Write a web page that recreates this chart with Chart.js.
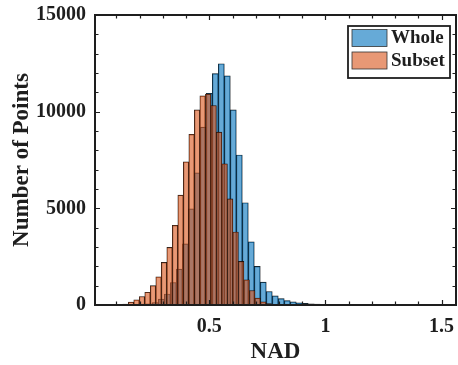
<!DOCTYPE html>
<html lang="en">
<head>
<meta charset="UTF-8">
<title>NAD histogram</title>
<script src="https://cdn.jsdelivr.net/npm/chart.js"></script>
<style>
  html, body { margin: 0; padding: 0; background: #fff; }
  #wrap { width: 458px; height: 365px; }
</style>
</head>
<body>
<div id="wrap"><canvas id="nadChart" width="458" height="365"></canvas></div>
<script>
// bin centres and counts of the two histograms (different bin widths)
const wholeBins = [0.1389, 0.1647, 0.1905, 0.2163, 0.2421, 0.2679, 0.2937, 0.3195, 0.3453, 0.3711,
                   0.3969, 0.4227, 0.4485, 0.4743, 0.5001, 0.5259, 0.5517, 0.5775, 0.6033, 0.6291,
                   0.6549, 0.6807, 0.7065, 0.7323, 0.7581, 0.7839, 0.8097, 0.8355, 0.8613, 0.8871,
                   0.9129, 0.9387, 0.9645, 0.9903, 1.0161, 1.0419, 1.0677, 1.0935, 1.1193];
const wholeCounts = [5, 12, 25, 45, 65, 130, 306, 570, 1166, 1860,
                     3160, 4968, 6834, 9197, 10950, 11970, 12480, 11850, 10090, 7760,
                     5290, 3265, 1995, 1180, 700, 470, 330, 230, 160, 110,
                     80, 58, 42, 30, 20, 14, 9, 6, 4];

const subsetBins = [0.0682, 0.0919, 0.1156, 0.1393, 0.1630, 0.1867, 0.2104, 0.2341, 0.2579, 0.2816,
                    0.3053, 0.3290, 0.3527, 0.3764, 0.4001, 0.4238, 0.4475, 0.4712, 0.4950, 0.5187,
                    0.5424, 0.5661, 0.5898, 0.6135, 0.6372, 0.6609, 0.6846, 0.7083, 0.7321, 0.7558,
                    0.7795, 0.8032, 0.8269];
const subsetCounts = [2, 6, 18, 50, 150, 269, 440, 660, 1000, 1460,
                      2202, 2979, 4120, 5680, 7404, 8830, 10090, 10820, 10910, 10321,
                      8938, 7300, 5487, 3777, 2254, 1306, 751, 357, 166, 78,
                      40, 20, 10];

const seriesNames = ['Whole', 'Subset'];
const xTicks = [0.5, 1, 1.5];
const yTicks = [0, 5000, 10000, 15000];

const X_MIN = 0.008, X_MAX = 1.562;
const FONT = '"Liberation Serif", "Times New Roman", serif';
const INK = '#1e1e1e';
const WHOLE_FILL = 'rgba(0, 114, 189, 0.6)';
const SUBSET_FILL = 'rgba(217, 83, 25, 0.6)';
const EDGE = 'rgba(0, 0, 0, 0.9)';

function toPoints(bins, counts) {
    return bins.map((b, i) => ({ x: b, y: counts[i] }));
}

// closed box with inward ticks on all four sides
const boxPlugin = {
    id: 'boxAxes',
    afterDatasetsDraw(chart) {
        const { ctx, chartArea: a, scales } = chart;
        const sx = scales.x, sy = scales.y;
        ctx.save();
        ctx.strokeStyle = INK;
        ctx.lineWidth = 1.2;
        ctx.beginPath();
        for (let i = Math.ceil(X_MIN * 10); i <= Math.floor(X_MAX * 10); i++) {
            const v = i / 10;
            const px = Math.round(sx.getPixelForValue(v)) + 0.5;
            const len = xTicks.includes(v) ? 5 : 3.5;
            ctx.moveTo(px, a.bottom); ctx.lineTo(px, a.bottom - len);
            ctx.moveTo(px, a.top); ctx.lineTo(px, a.top + len);
        }
        for (let v = 0; v <= 15000; v += 1000) {
            const py = Math.round(sy.getPixelForValue(v)) + 0.5;
            const len = yTicks.includes(v) ? 5 : 3.5;
            ctx.moveTo(a.left, py); ctx.lineTo(a.left + len, py);
            ctx.moveTo(a.right, py); ctx.lineTo(a.right - len, py);
        }
        ctx.stroke();
        ctx.lineWidth = 2;
        ctx.strokeRect(a.left, a.top, a.right - a.left, a.bottom - a.top);
        ctx.restore();
    }
};

// boxed legend in the upper right corner
const legendPlugin = {
    id: 'boxLegend',
    afterDraw(chart) {
        const { ctx, chartArea: a } = chart;
        const sets = chart.data.datasets;
        const w = 102, h = 52;
        const left = a.right - 6 - w, top = a.top + 11;
        ctx.save();
        ctx.fillStyle = '#fff';
        ctx.fillRect(left, top, w, h);
        ctx.strokeStyle = INK;
        ctx.lineWidth = 1.8;
        ctx.strokeRect(left, top, w, h);
        ctx.font = 'bold 19px ' + FONT;
        ctx.textBaseline = 'middle';
        sets.forEach((ds, i) => {
            const ry = top + 3.5 + i * 22.5;
            ctx.fillStyle = ds.backgroundColor;
            ctx.fillRect(left + 4, ry, 35, 17);
            ctx.lineWidth = 0.8;
            ctx.strokeStyle = '#333';
            ctx.strokeRect(left + 4, ry, 35, 17);
            ctx.fillStyle = INK;
            ctx.fillText(ds.label, left + 43, ry + 9);
        });
        ctx.restore();
    }
};

const tickFont = { family: FONT, size: 20, weight: 'bold' };
const titleFont = { family: FONT, size: 23, weight: 'bold', lineHeight: 1 };

new Chart(document.getElementById('nadChart'), {
    type: 'bar',
    data: {
        datasets: [
            {
                label: seriesNames[0],
                data: toPoints(wholeBins, wholeCounts),
                xAxisID: 'x',
                backgroundColor: WHOLE_FILL,
                borderColor: EDGE,
                borderWidth: 0.55,
                borderSkipped: false,
                order: 2
            },
            {
                label: seriesNames[1],
                data: toPoints(subsetBins, subsetCounts),
                xAxisID: 'x2',
                backgroundColor: SUBSET_FILL,
                borderColor: EDGE,
                borderWidth: 0.55,
                borderSkipped: false,
                order: 1
            }
        ]
    },
    options: {
        responsive: false,
        animation: false,
        layout: { padding: { top: 15, right: 2, left: 0, bottom: 0 } },
        datasets: { bar: { barPercentage: 1, categoryPercentage: 1, grouped: false } },
        plugins: { legend: { display: false }, tooltip: { enabled: false } },
        scales: {
            x: {
                type: 'linear',
                min: X_MIN,
                max: X_MAX,
                offset: false,
                grid: { display: false, drawTicks: false },
                border: { display: false },
                afterBuildTicks: s => { s.ticks = xTicks.map(v => ({ value: v })); },
                afterFit: s => { s.height = 60; s.paddingLeft = 0; s.paddingRight = 0; },
                ticks: { font: tickFont, color: INK, padding: 10, maxRotation: 0, callback: v => String(v) },
                title: { display: true, text: 'NAD', font: titleFont, color: INK, padding: { top: 0, bottom: 1 } }
            },
            x2: {
                type: 'linear',
                display: false,
                min: X_MIN,
                max: X_MAX,
                offset: false,
                afterBuildTicks: s => { s.ticks = xTicks.map(v => ({ value: v })); }
            },
            y: {
                min: 0,
                max: 15000,
                grid: { display: false, drawTicks: false },
                border: { display: false },
                afterBuildTicks: s => { s.ticks = yTicks.map(v => ({ value: v })); },
                afterFit: s => { s.width = 95; s.paddingTop = 0; s.paddingBottom = 0; },
                ticks: { font: tickFont, color: INK, padding: 9, callback: v => String(v) },
                title: { display: true, text: 'Number of Points', font: titleFont, color: INK, padding: { top: 11, bottom: 0 } }
            }
        }
    },
    plugins: [boxPlugin, legendPlugin]
});
</script>
</body>
</html>
